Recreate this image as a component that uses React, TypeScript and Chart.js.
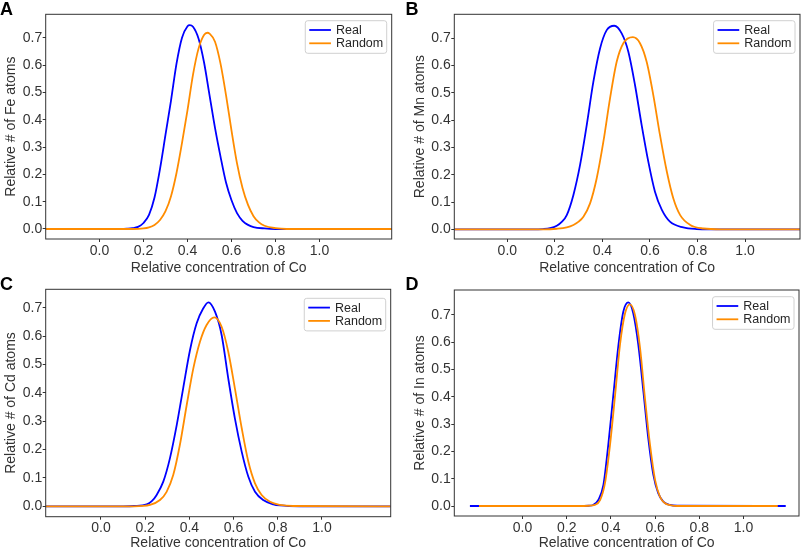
import React, { useEffect, useRef } from "react";
import { Chart, registerables } from "chart.js";

Chart.register(...registerables);

const FONT = "'Liberation Sans', Arial, Helvetica, sans-serif";
Chart.defaults.font.family = FONT;

// ---------- data ----------
const seriesLabels = ["Real", "Random"];
const panelLetters = ["A", "B", "C", "D"];
const yTitles = [
  "Relative # of Fe atoms",
  "Relative # of Mn atoms",
  "Relative # of Cd atoms",
  "Relative # of In atoms",
];
const xTitle = "Relative concentration of Co";
const xTicks = [0, 0.2, 0.4, 0.6, 0.8, 1.0];
const yTicks = [0, 0.1, 0.2, 0.3, 0.4, 0.5, 0.6, 0.7];

const xRanges = [
  [-0.2445, 1.328],
  [-0.223, 1.231],
  [-0.25, 1.311],
  [-0.3086, 1.251],
];
const yRanges = [
  [-0.0366, 0.7856],
  [-0.0355, 0.788],
  [-0.0367, 0.765],
  [-0.0366, 0.7915],
];

// Panel A (Fe)
const aRealX = [-0.2445, 0.10, 0.125, 0.15, 0.175, 0.20, 0.225, 0.25, 0.275, 0.30, 0.325, 0.35, 0.375, 0.40, 0.41, 0.425, 0.45, 0.475, 0.50, 0.525, 0.55, 0.575, 0.60, 0.625, 0.65, 0.675, 0.70, 0.75, 0.80, 1.328];
const aRealY = [0, 0, 0.001, 0.003, 0.008, 0.022, 0.052, 0.115, 0.22, 0.345, 0.47, 0.605, 0.70, 0.742, 0.746, 0.74, 0.697, 0.61, 0.49, 0.37, 0.265, 0.17, 0.105, 0.058, 0.03, 0.015, 0.007, 0.002, 0, 0];
const aRandX = [-0.2445, 0.15, 0.20, 0.225, 0.25, 0.275, 0.30, 0.325, 0.35, 0.375, 0.40, 0.425, 0.45, 0.475, 0.49, 0.50, 0.525, 0.55, 0.575, 0.60, 0.625, 0.65, 0.675, 0.70, 0.725, 0.75, 0.80, 0.85, 1.328];
const aRandY = [0, 0, 0.002, 0.006, 0.015, 0.033, 0.065, 0.12, 0.205, 0.315, 0.435, 0.565, 0.66, 0.71, 0.718, 0.715, 0.685, 0.605, 0.49, 0.36, 0.24, 0.15, 0.088, 0.047, 0.024, 0.012, 0.003, 0, 0];

// Panel B (Mn)
const bRealX = [-0.223, 0.10, 0.151, 0.18, 0.208, 0.23, 0.25, 0.278, 0.306, 0.334, 0.362, 0.39, 0.418, 0.45, 0.481, 0.509, 0.537, 0.565, 0.593, 0.621, 0.65, 0.684, 0.74, 0.796, 0.85, 1.231];
const bRealY = [0, 0, 0.001, 0.004, 0.013, 0.028, 0.052, 0.126, 0.236, 0.382, 0.541, 0.663, 0.73, 0.746, 0.718, 0.651, 0.529, 0.382, 0.248, 0.138, 0.071, 0.028, 0.007, 0.001, 0, 0];
const bRandX = [-0.223, 0.15, 0.208, 0.25, 0.278, 0.30, 0.32, 0.348, 0.376, 0.404, 0.432, 0.46, 0.488, 0.528, 0.558, 0.586, 0.614, 0.642, 0.671, 0.698, 0.727, 0.769, 0.825, 0.90, 1.231];
const bRandY = [0, 0, 0.002, 0.007, 0.016, 0.028, 0.046, 0.095, 0.187, 0.321, 0.48, 0.614, 0.682, 0.704, 0.682, 0.614, 0.492, 0.346, 0.211, 0.114, 0.052, 0.016, 0.003, 0, 0];

// Panel C (Cd)
const cRealX = [-0.25, 0.10, 0.15, 0.207, 0.23, 0.252, 0.282, 0.312, 0.343, 0.372, 0.403, 0.433, 0.463, 0.486, 0.516, 0.546, 0.576, 0.606, 0.637, 0.667, 0.697, 0.734, 0.78, 0.81, 0.90, 1.311];
const cRealY = [0, 0, 0.001, 0.007, 0.018, 0.04, 0.087, 0.169, 0.287, 0.416, 0.551, 0.645, 0.698, 0.719, 0.686, 0.604, 0.451, 0.31, 0.192, 0.104, 0.051, 0.022, 0.007, 0.003, 0, 0];
const cRandX = [-0.25, 0.15, 0.222, 0.267, 0.297, 0.327, 0.357, 0.388, 0.418, 0.448, 0.478, 0.513, 0.546, 0.576, 0.606, 0.637, 0.667, 0.697, 0.727, 0.765, 0.81, 0.87, 1.311];
const cRandY = [0, 0, 0.005, 0.022, 0.051, 0.11, 0.216, 0.357, 0.486, 0.58, 0.639, 0.666, 0.633, 0.545, 0.416, 0.275, 0.157, 0.081, 0.04, 0.016, 0.005, 0.001, 0];

// Panel D (In)
const dRealX = [-0.238, 0.25, 0.30, 0.32, 0.343, 0.366, 0.388, 0.411, 0.434, 0.456, 0.479, 0.501, 0.524, 0.547, 0.569, 0.592, 0.614, 0.637, 0.667, 0.70, 1.191];
const dRealY = [0, 0, 0.001, 0.004, 0.022, 0.077, 0.224, 0.407, 0.59, 0.712, 0.746, 0.706, 0.59, 0.419, 0.248, 0.114, 0.047, 0.016, 0.004, 0.001, 0];
const dRandX = [-0.197, 0.25, 0.30, 0.327, 0.351, 0.373, 0.396, 0.419, 0.441, 0.464, 0.486, 0.509, 0.532, 0.554, 0.577, 0.60, 0.622, 0.645, 0.674, 0.70, 1.155];
const dRandY = [0, 0, 0.001, 0.004, 0.022, 0.083, 0.224, 0.407, 0.59, 0.706, 0.739, 0.70, 0.578, 0.395, 0.224, 0.095, 0.034, 0.01, 0.002, 0, 0];

const realX = [aRealX, bRealX, cRealX, dRealX];
const realY = [aRealY, bRealY, cRealY, dRealY];
const randX = [aRandX, bRandX, cRandX, dRandX];
const randY = [aRandY, bRandY, cRandY, dRandY];

// ---------- styling / layout ----------
const BLUE = "#0000ff";
const ORANGE = "#ff8c00";
const TEXT = "#333333";
const AXIS = "#333333";

const layouts = [
  { L: 45.7, T: 14.3, R: 391.7, B: 239, yTitleX: 10.8, xTitleY: 267.7, legendTop: 6.4 },
  { L: 454.3, T: 14.3, R: 800, B: 239, yTitleX: 420, xTitleY: 267.7, legendTop: 6.4 },
  { L: 45.7, T: 289.3, R: 390.7, B: 516.7, yTitleX: 10.8, xTitleY: 542.7, legendTop: 9 },
  { L: 454.3, T: 290, R: 799, B: 516, yTitleX: 420, xTitleY: 543.3, legendTop: 6.7 },
];
const letterPos = [
  { left: 0, top: 0 },
  { left: 405.5, top: 0 },
  { left: 0, top: 274.5 },
  { left: 405.5, top: 274.5 },
];

const TITLE_SIZE = 14;
const HALF_LH = (TITLE_SIZE * 1.2) / 2;

const framePlugin = {
  id: "frame",
  afterDatasetsDraw(chart: any) {
    const { ctx, chartArea: a } = chart;
    ctx.save();
    ctx.strokeStyle = AXIS;
    ctx.lineWidth = 1;
    ctx.strokeRect(a.left, a.top, a.right - a.left, a.bottom - a.top);
    ctx.restore();
  },
};

const insideLegend = {
  id: "insideLegend",
  afterDraw(chart: any, _args: any, opts: any) {
    const { ctx, chartArea: a } = chart;
    const ds = chart.data.datasets;
    ctx.save();
    ctx.font = `12.5px ${FONT}`;
    const tw = Math.max(...ds.map((d: any) => ctx.measureText(d.label).width));
    const bw = 30.7 + tw + 3.5;
    const bh = 32.6;
    const bx = a.right - 5 - bw;
    const by = a.top + (opts.top ?? 6.4);
    ctx.beginPath();
    if (ctx.roundRect) ctx.roundRect(bx, by, bw, bh, 2.5);
    else ctx.rect(bx, by, bw, bh);
    ctx.fillStyle = "rgba(255,255,255,0.8)";
    ctx.fill();
    ctx.strokeStyle = "#d0d0d0";
    ctx.lineWidth = 1;
    ctx.stroke();
    ds.forEach((d: any, i: number) => {
      const cy = by + 9.3 + i * 13.3;
      ctx.strokeStyle = d.borderColor;
      ctx.lineWidth = 1.8;
      ctx.beginPath();
      ctx.moveTo(bx + 4, cy);
      ctx.lineTo(bx + 25.7, cy);
      ctx.stroke();
      ctx.fillStyle = "#262626";
      ctx.textBaseline = "middle";
      ctx.textAlign = "left";
      ctx.fillText(d.label, bx + 30.7, cy + 0.5);
    });
    ctx.restore();
  },
};

function pts(xs: number[], ys: number[]) {
  return xs.map((x, i) => ({ x, y: ys[i] }));
}

function Panel({ idx }: { idx: number }) {
  const ref = useRef<HTMLCanvasElement | null>(null);
  const lay = layouts[idx];
  const x0 = Math.floor(lay.yTitleX - HALF_LH);
  const y0 = Math.floor(lay.T - 10);
  const w = Math.ceil(lay.R + 4 - x0);
  const h = Math.ceil(lay.xTitleY + HALF_LH - y0);

  useEffect(() => {
    if (!ref.current) return;
    const chart = new Chart(ref.current, {
      type: "line",
      data: {
        datasets: [
          {
            label: seriesLabels[0],
            data: pts(realX[idx], realY[idx]),
            borderColor: BLUE,
            backgroundColor: BLUE,
            borderWidth: 1.8,
            pointRadius: 0,
            cubicInterpolationMode: "monotone",
            fill: false,
            order: 1,
          },
          {
            label: seriesLabels[1],
            data: pts(randX[idx], randY[idx]),
            borderColor: ORANGE,
            backgroundColor: ORANGE,
            borderWidth: 1.8,
            pointRadius: 0,
            cubicInterpolationMode: "monotone",
            fill: false,
            order: 0,
          },
        ] as any,
      },
      options: {
        animation: false,
        responsive: false,
        maintainAspectRatio: false,
        events: [],
        layout: {
          padding: { top: lay.T - y0, right: x0 + w - lay.R, left: 0, bottom: 0 },
        },
        plugins: {
          legend: { display: false },
          tooltip: { enabled: false },
          insideLegend: { top: lay.legendTop },
        } as any,
        scales: {
          x: {
            type: "linear",
            min: xRanges[idx][0],
            max: xRanges[idx][1],
            afterBuildTicks: (s: any) => {
              s.ticks = xTicks.map((v) => ({ value: v }));
            },
            afterFit: (s: any) => {
              s.height = y0 + h - lay.B;
            },
            grid: {
              display: true,
              drawOnChartArea: false,
              drawTicks: true,
              tickLength: 3,
              tickColor: AXIS,
              tickWidth: 1,
            },
            border: { display: false },
            ticks: {
              color: TEXT,
              font: { size: 14 },
              padding: 0.5,
              maxRotation: 0,
              autoSkip: false,
              callback: (v: any) => Number(v).toFixed(1),
            },
            title: {
              display: true,
              text: xTitle,
              color: TEXT,
              font: { size: TITLE_SIZE },
              padding: { top: 0, bottom: y0 + h - lay.xTitleY - HALF_LH },
            },
          },
          y: {
            type: "linear",
            min: yRanges[idx][0],
            max: yRanges[idx][1],
            afterBuildTicks: (s: any) => {
              s.ticks = yTicks.map((v) => ({ value: v }));
            },
            afterFit: (s: any) => {
              s.width = lay.L - x0;
            },
            grid: {
              display: true,
              drawOnChartArea: false,
              drawTicks: true,
              tickLength: 3,
              tickColor: AXIS,
              tickWidth: 1,
            },
            border: { display: false },
            ticks: {
              color: TEXT,
              font: { size: 14 },
              padding: 0.5,
              autoSkip: false,
              callback: (v: any) => Number(v).toFixed(1),
            },
            title: {
              display: true,
              text: yTitles[idx],
              color: TEXT,
              font: { size: TITLE_SIZE },
              padding: { top: lay.yTitleX - HALF_LH - x0, bottom: 0 },
            },
          },
        } as any,
      },
      plugins: [framePlugin, insideLegend],
    });
    return () => chart.destroy();
  }, [idx]);

  return (
    <canvas
      ref={ref}
      width={w}
      height={h}
      style={{ position: "absolute", left: x0, top: y0, width: w, height: h }}
    />
  );
}

export default function App() {
  return (
    <div
      style={{
        position: "fixed",
        left: 0,
        top: 0,
        width: 803,
        height: 550,
        overflow: "hidden",
        background: "#ffffff",
      }}
    >
      {[0, 1, 2, 3].map((i) => (
        <Panel key={i} idx={i} />
      ))}
      {panelLetters.map((l, i) => (
        <div
          key={l}
          style={{
            position: "absolute",
            left: letterPos[i].left,
            top: letterPos[i].top,
            fontFamily: FONT,
            fontWeight: "bold",
            fontSize: 18,
            lineHeight: "18px",
            color: "#000",
          }}
        >
          {l}
        </div>
      ))}
    </div>
  );
}
